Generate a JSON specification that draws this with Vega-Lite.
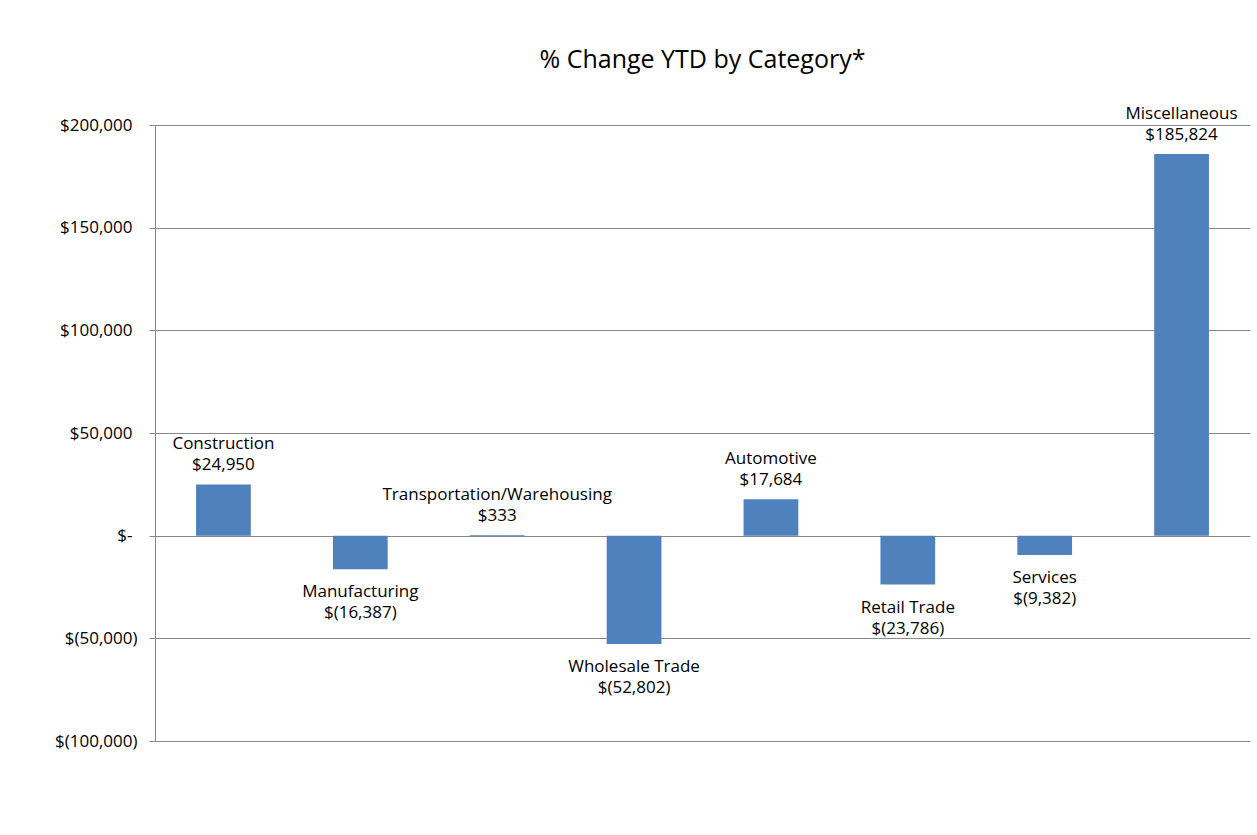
{
  "$schema": "https://vega.github.io/schema/vega-lite/v6.json",
  "autosize": "none",
  "padding": {"left": 155, "top": 125, "right": 7, "bottom": 94},
  "width": 1095,
  "height": 616,
  "background": "white",
  "config": {
    "view": {"stroke": null},
    "font": "Open Sans",
    "axis": {"labelFont": "Open Sans", "titleFont": "Open Sans"}
  },
  "title": {
    "text": "% Change YTD by Category*",
    "fontSize": 25,
    "fontWeight": "normal",
    "font": "Open Sans",
    "color": "#000",
    "anchor": "middle",
    "offset": 32
  },
  "data": {
    "values": [
      {"category": "Construction", "value": 24950},
      {"category": "Manufacturing", "value": -16387},
      {"category": "Transportation/Warehousing", "value": 333},
      {"category": "Wholesale Trade", "value": -52802},
      {"category": "Automotive", "value": 17684},
      {"category": "Retail Trade", "value": -23786},
      {"category": "Services", "value": -9382},
      {"category": "Miscellaneous", "value": 185824}
    ]
  },
  "transform": [
    {"calculate": "datum.category + '\\n' + (datum.value < 0 ? '$(' + format(-datum.value, ',') + ')' : '$' + format(datum.value, ','))", "as": "label"}
  ],
  "encoding": {
    "x": {
      "field": "category",
      "type": "nominal",
      "sort": null,
      "scale": {"paddingInner": 0.6, "paddingOuter": 0.3},
      "axis": null
    }
  },
  "layer": [
    {
      "mark": {"type": "bar", "color": "#4F81BD"},
      "encoding": {
        "y": {
          "field": "value",
          "type": "quantitative",
          "scale": {"domain": [-100000, 200000], "nice": false, "zero": true},
          "axis": {
            "title": null,
            "values": [-100000, -50000, 0, 50000, 100000, 150000, 200000],
            "labelExpr": "datum.value == 0 ? '$-' : (datum.value < 0 ? '$(' + format(-datum.value, ',') + ')' : '$' + format(datum.value, ','))",
            "labelFontSize": 17,
            "labelColor": "#000",
            "labelPadding": {"condition": {"test": "datum.value >= 0", "value": 17}, "value": 12},
            "grid": true,
            "gridColor": "#888888",
            "gridWidth": 1,
            "domain": true,
            "domainColor": "#888888",
            "tickColor": "#888888",
            "tickSize": 6
          }
        }
      }
    },
    {
      "transform": [{"filter": "datum.value >= 0"}],
      "mark": {"type": "text", "lineBreak": "\n", "baseline": "bottom", "align": "center", "dy": -31, "fontSize": 17, "color": "#000", "lineHeight": 21},
      "encoding": {
        "y": {"field": "value", "type": "quantitative"},
        "text": {"field": "label"}
      }
    },
    {
      "transform": [{"filter": "datum.value < 0"}],
      "mark": {"type": "text", "lineBreak": "\n", "baseline": "top", "align": "center", "dy": 15, "fontSize": 17, "color": "#000", "lineHeight": 21},
      "encoding": {
        "y": {"field": "value", "type": "quantitative"},
        "text": {"field": "label"}
      }
    }
  ]
}
